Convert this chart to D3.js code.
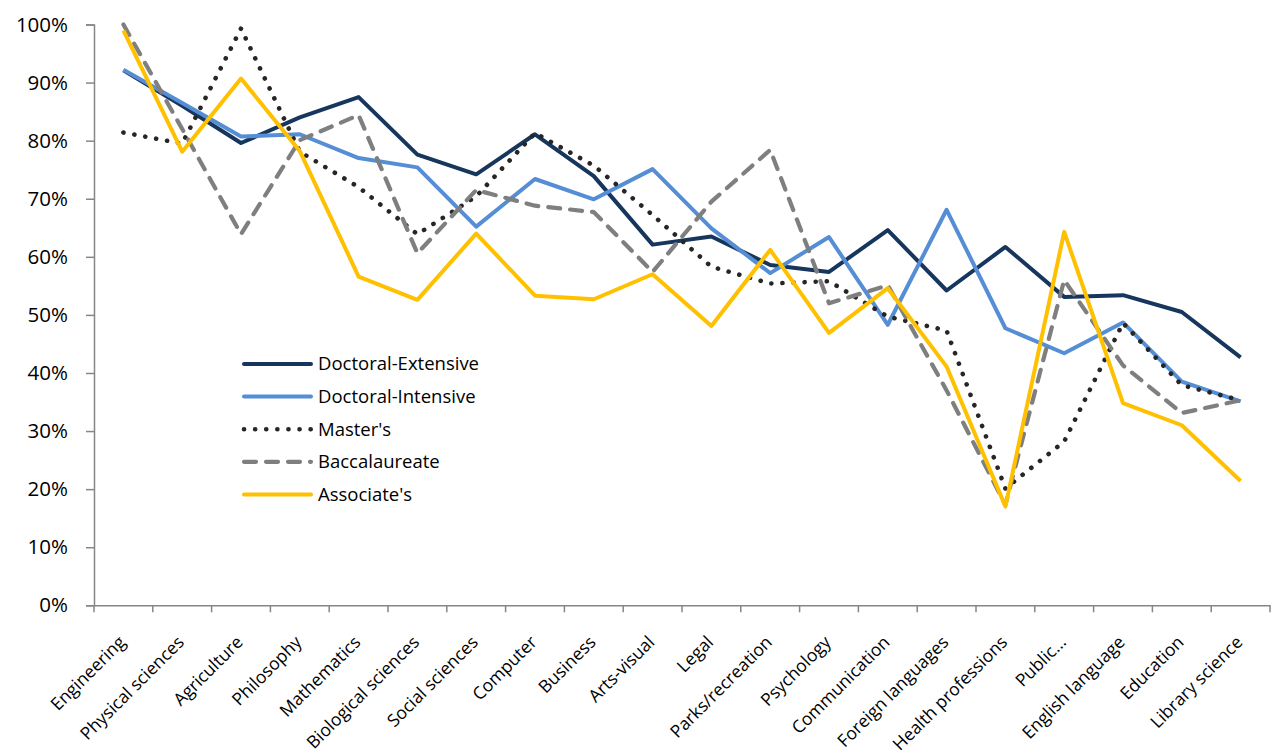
<!DOCTYPE html>
<html><head><meta charset="utf-8">
<script src="https://d3js.org/d3.v7.min.js"></script>
<style>body{margin:0;background:#fff}svg{display:block}</style>
</head><body><svg id="c" width="1272" height="755"></svg>
<script>
const categories = ["Engineering","Physical sciences","Agriculture","Philosophy","Mathematics","Biological sciences","Social sciences","Computer","Business","Arts-visual","Legal","Parks/recreation","Psychology","Communication","Foreign languages","Health professions","Public...","English language","Education","Library science"];
const doctoralExtensive = [92.1,86,79.6,84,87.5,77.6,74.2,81.1,73.9,62.1,63.5,58.6,57.4,64.6,54.2,61.7,53.1,53.4,50.5,42.7];
const doctoralIntensive = [92.2,86.5,80.7,81.1,77.0,75.4,65.2,73.4,69.9,75.1,64.9,57.2,63.4,48.3,68.1,47.7,43.4,48.7,38.5,35.1];
const masters = [81.4,79.5,99.3,78.1,72,63.9,70.4,81.3,75.7,67.2,58.3,55.4,55.8,49.7,47.3,20.1,28.2,48.6,37.9,35.3];
const baccalaureate = [100,82,63.9,80.1,84.4,60.6,71.5,68.8,67.7,57.4,69.5,78.4,52.0,55.1,37,17.3,56.0,41.3,33.1,35.3];
const associates = [99.0,78.1,90.7,78.2,56.6,52.6,64.0,53.3,52.7,57.0,48.1,61.2,46.9,54.6,41.1,17.0,64.3,34.8,31.0,21.4];
const yTicks = [0,10,20,30,40,50,60,70,80,90,100];
const seriesNames = ["Doctoral-Extensive","Doctoral-Intensive","Master's","Baccalaureate","Associate's"];

const series = [
  {name: seriesNames[0], values: doctoralExtensive, color:"#17365D", dash:null, cap:"butt", w:4},
  {name: seriesNames[1], values: doctoralIntensive, color:"#558ED5", dash:null, cap:"butt", w:4},
  {name: seriesNames[2], values: masters, color:"#262626", dash:"0.1 11", cap:"round", w:4.6},
  {name: seriesNames[3], values: baccalaureate, color:"#7F7F7F", dash:"12 10", cap:"round", w:4.2},
  {name: seriesNames[4], values: associates, color:"#FFC000", dash:null, cap:"butt", w:4}
];

const svg = d3.select("#c");
const mLeft = 94, mRight = 1270, mTop = 24.5, mBottom = 605.3;
const x = d3.scaleBand().domain(categories).range([mLeft, mRight]);
const y = d3.scaleLinear().domain([0,100]).range([mBottom, mTop]);
const axisColor = "#868686";
const fontFam = "'Open Sans', sans-serif";

// y axis
const gy = svg.append("g").attr("transform", `translate(${mLeft},0)`)
  .call(d3.axisLeft(y).tickValues(yTicks).tickSize(8).tickFormat(d => d + "%").tickPadding(18));
gy.select(".domain").attr("stroke", axisColor).attr("stroke-width", 1.5);
gy.selectAll(".tick line").attr("stroke", axisColor).attr("stroke-width", 1.5);
gy.selectAll(".tick text").attr("font-family", fontFam).attr("font-size", 20.5).attr("fill", "#000");

// x axis
const gx = svg.append("g").attr("transform", `translate(0,${mBottom})`)
  .call(d3.axisBottom(x).tickSize(0).tickFormat(""));
gx.select(".domain").attr("stroke", axisColor).attr("stroke-width", 1.5);
const tickPos = d3.range(categories.length + 1).map(i => mLeft + i * x.step());
gx.selectAll(".xt").data(tickPos).enter().append("line").attr("class","xt")
  .attr("x1", d => d).attr("x2", d => d).attr("y1", 0).attr("y2", 7)
  .attr("stroke", axisColor).attr("stroke-width", 1.5);
svg.append("g").selectAll("text").data(categories).enter().append("text")
  .attr("transform", d => `translate(${x(d) + x.bandwidth()/2 + 3},${mBottom + 38}) rotate(-45)`)
  .attr("text-anchor", "end")
  .attr("font-family", fontFam).attr("font-size", 17.5)
  .attr("fill", "#000")
  .text(d => d);

// lines
const line = d3.line().x((d,i) => x(categories[i]) + x.bandwidth()/2).y(d => y(d));
series.forEach(s => {
  svg.append("path").datum(s.values)
    .attr("d", line)
    .attr("fill", "none")
    .attr("stroke", s.color)
    .attr("stroke-width", s.w)
    .attr("stroke-linejoin", "round")
    .attr("stroke-linecap", s.cap)
    .attr("stroke-dasharray", s.dash);
});

// legend
const lg = svg.append("g");
series.forEach((s, i) => {
  const ly = 364 + i * 32.6;
  lg.append("line").attr("x1", 244).attr("x2", 311).attr("y1", ly).attr("y2", ly)
    .attr("stroke", s.color).attr("stroke-width", s.w)
    .attr("stroke-linecap", "round")
    .attr("stroke-dasharray", s.dash);
  lg.append("text").attr("x", 318).attr("y", ly).attr("dy", "0.35em")
    .attr("font-family", fontFam).attr("font-size", 18.5).attr("fill", "#000")
    .text(s.name);
});
</script></body></html>
